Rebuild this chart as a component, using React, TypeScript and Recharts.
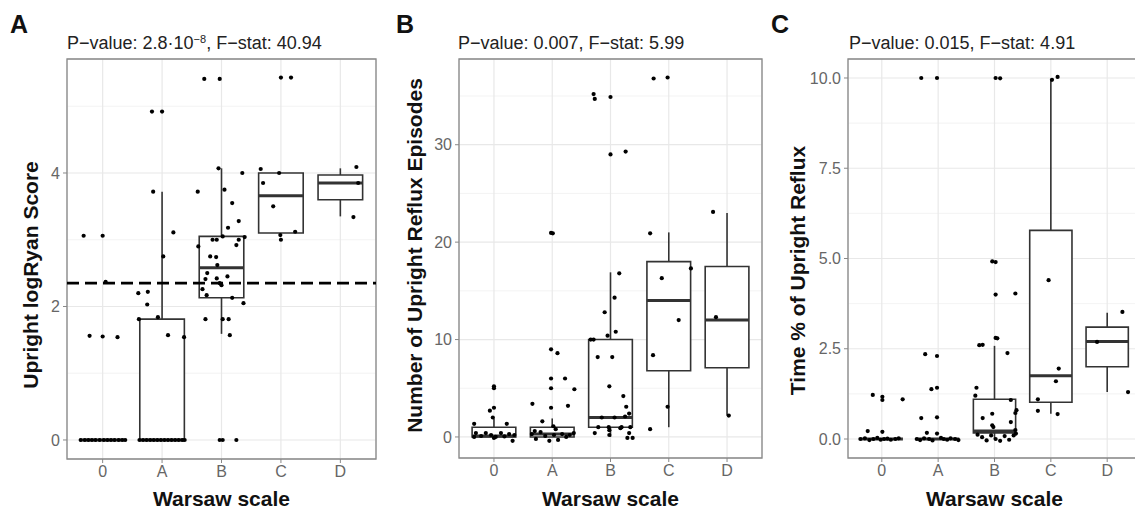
import React from 'react'
import {
  CartesianGrid,
  ComposedChart,
  ReferenceArea,
  ReferenceLine,
  Scatter,
  XAxis,
  YAxis,
} from 'recharts'

const FONT = '"Liberation Sans", Arial, Helvetica, sans-serif'
const GRADES = ['0', 'A', 'B', 'C', 'D']

// Panel A: upright logRyan score
const ryanQ1 = [0, 0, 2.13, 3.1, 3.6]
const ryanMedian = [0, 0, 2.58, 3.66, 3.85]
const ryanQ3 = [0, 1.81, 3.05, 4.0, 3.97]
const ryanLow = [0, 0, 1.59, 3.1, 3.35]
const ryanHigh = [0, 3.72, 4.07, 4.0, 4.07]
const ryanCutoff = 2.35
// [grade, jitter, value]
const ryanPoints: [number, number, number][] = [
  [0, -0.37, 0], [0, -0.3, 0], [0, -0.24, 0], [0, -0.18, 0], [0, -0.12, 0], [0, -0.05, 0],
  [0, 0.02, 0], [0, 0.08, 0], [0, 0.14, 0], [0, 0.2, 0], [0, 0.27, 0], [0, 0.33, 0], [0, 0.38, 0],
  [0, -0.22, 1.56], [0, 0.0, 1.55], [0, 0.25, 1.54], [0, -0.32, 3.06], [0, 0.0, 3.06], [0, 0.05, 2.37],
  [1, -0.17, 4.92], [1, 0.0, 4.92], [1, -0.15, 3.72], [1, 0.19, 3.11], [1, 0.02, 2.75], [1, -0.4, 2.2],
  [1, -0.24, 2.22], [1, -0.25, 2.03], [1, -0.39, 1.81], [1, -0.07, 1.84], [1, 0.1, 1.57], [1, 0.37, 1.54],
  [1, -0.38, 0], [1, -0.32, 0], [1, -0.26, 0], [1, -0.2, 0], [1, -0.14, 0], [1, -0.08, 0], [1, -0.02, 0],
  [1, 0.04, 0], [1, 0.1, 0], [1, 0.16, 0], [1, 0.22, 0], [1, 0.28, 0], [1, 0.34, 0], [1, 0.38, 0],
  [2, -0.29, 5.41], [2, -0.03, 5.41], [2, -0.05, 4.07], [2, 0.35, 4.0], [2, -0.4, 3.72], [2, 0.05, 3.75],
  [2, 0.18, 3.55], [2, 0.29, 3.28], [2, 0.11, 3.18], [2, 0.25, 2.92], [2, -0.39, 2.9],
  [2, -0.15, 3.0], [2, -0.08, 3.0], [2, 0.02, 3.05], [2, 0.29, 3.0], [2, 0.39, 3.04],
  [2, -0.19, 2.75], [2, -0.09, 2.74], [2, -0.07, 2.62], [2, -0.24, 2.5], [2, 0.1, 2.45], [2, -0.27, 2.41],
  [2, -0.08, 2.42], [2, -0.03, 2.35], [2, 0.0, 2.32], [2, -0.32, 2.26], [2, -0.25, 2.17], [2, 0.18, 2.13],
  [2, 0.37, 2.05], [2, -0.27, 1.81], [2, 0.02, 1.81], [2, 0.12, 1.81], [2, 0.14, 1.57],
  [2, -0.03, 0], [2, 0.02, 0], [2, 0.25, 0],
  [3, 0.0, 5.43], [3, 0.17, 5.43], [3, -0.34, 4.06], [3, -0.03, 4.0], [3, -0.3, 3.85], [3, -0.13, 3.5],
  [3, 0.24, 3.12], [3, -0.01, 3.07], [3, 0.0, 3.0],
  [4, 0.27, 4.09], [4, 0.3, 3.85], [4, 0.22, 3.34],
]

// Panel B: number of upright reflux episodes
const episodesQ1 = [0, 0, 1.0, 6.8, 7.1]
const episodesMedian = [0.1, 0.3, 2.0, 14.0, 12.0]
const episodesQ3 = [1.0, 1.0, 10.0, 18.0, 17.5]
const episodesLow = [0, 0, 0, 1.0, 2.2]
const episodesHigh = [1.9, 1.9, 16.9, 21.0, 23.0]
const episodesPoints: [number, number, number][] = [
  [0, 0.0, 5.2], [0, 0.0, 5.0], [0, 0.0, 3.0], [0, -0.07, 2.7], [0, -0.02, 2.0], [0, -0.34, 1.35],
  [0, 0.22, 1.35], [0, -0.31, 0.4], [0, -0.14, 0.4], [0, -0.05, 0.2], [0, 0.03, 0], [0, 0.12, 0.4],
  [0, 0.26, 0.3], [0, -0.34, 0], [0, 0.32, -0.4], [0, 0.0, -0.1], [0, -0.22, 0.1], [0, 0.18, 0.05], [0, 0.35, 0.2],
  [1, -0.02, 20.95], [1, 0.01, 20.9], [1, -0.02, 9.0], [1, 0.09, 8.6], [1, -0.02, 6.0], [1, 0.22, 6.0],
  [1, -0.02, 5.0], [1, 0.38, 4.9], [1, -0.34, 3.4], [1, -0.02, 3.0], [1, 0.27, 3.2], [1, -0.17, 1.6],
  [1, 0.02, 1.1], [1, -0.35, 0.3], [1, -0.28, -0.2], [1, -0.2, 0.5], [1, -0.12, 0.1], [1, -0.05, -0.4],
  [1, 0.03, 0.2], [1, 0.1, -0.3], [1, 0.17, 0.3], [1, 0.24, 0.0], [1, 0.3, 0.2], [1, 0.37, 0.4],
  [1, -0.3, 0.6], [1, 0.06, 0.8],
  [2, -0.29, 35.2], [2, -0.27, 34.7], [2, 0.0, 34.9], [2, 0.0, 29.0], [2, 0.26, 29.3], [2, 0.15, 16.8],
  [2, 0.07, 14.3], [2, -0.1, 12.8], [2, 0.09, 10.8], [2, -0.05, 10.4], [2, -0.34, 10.0], [2, -0.29, 10.0],
  [2, -0.22, 8.2], [2, 0.03, 8.2], [2, -0.02, 5.2], [2, 0.22, 4.2], [2, 0.27, 3.1], [2, 0.32, 2.4],
  [2, -0.21, 1.0], [2, -0.03, 1.0], [2, 0.07, 2.0], [2, 0.19, 1.0], [2, 0.34, 1.0], [2, -0.27, 0.4],
  [2, -0.02, 0.7], [2, 0.32, 0.4], [2, 0.29, -0.1], [2, 0.38, -0.1], [2, -0.02, 0.2], [2, 0.17, 0.9],
  [2, -0.15, 2.0], [2, 0.25, 2.1],
  [3, -0.26, 36.8], [3, -0.02, 36.9], [3, -0.32, 20.9], [3, 0.38, 17.3], [3, -0.12, 16.3], [3, 0.17, 12.0],
  [3, -0.27, 8.4], [3, -0.02, 3.1], [3, -0.32, 0.8],
  [4, -0.24, 23.1], [4, -0.19, 12.3], [4, 0.03, 2.2],
]

// Panel C: time % of upright reflux
const timeQ1 = [0, 0, 0.17, 1.02, 2.0]
const timeMedian = [0, 0, 0.22, 1.75, 2.7]
const timeQ3 = [0, 0, 1.1, 5.78, 3.1]
const timeLow = [0, 0, 0, 0.7, 1.3]
const timeHigh = [0, 0, 2.58, 9.95, 3.5]
const timePoints: [number, number, number][] = [
  [0, -0.16, 1.22], [0, 0.01, 1.17], [0, 0.01, 1.08], [0, 0.37, 1.1], [0, -0.25, 0.22], [0, 0.01, 0.2],
  [0, -0.38, 0], [0, -0.3, 0.02], [0, -0.22, -0.03], [0, -0.15, 0], [0, -0.08, 0.03], [0, -0.02, -0.02],
  [0, 0.04, 0], [0, 0.1, 0.01], [0, 0.16, -0.02], [0, 0.24, 0], [0, 0.3, 0.02],
  [1, -0.3, 10.0], [1, -0.02, 10.0], [1, -0.23, 2.35], [1, -0.02, 2.3], [1, -0.12, 1.38], [1, -0.02, 1.42],
  [1, -0.3, 0.58], [1, -0.02, 0.6], [1, -0.2, 0.17], [1, -0.02, 0.15], [1, -0.38, 0], [1, -0.32, -0.03],
  [1, -0.25, 0.02], [1, -0.16, 0], [1, -0.1, -0.04], [1, 0.05, 0.03], [1, 0.1, 0], [1, 0.16, -0.02],
  [1, 0.22, 0.02], [1, 0.3, 0], [1, 0.36, -0.03],
  [2, 0.02, 10.0], [2, 0.1, 9.99], [2, -0.04, 4.92], [2, 0.02, 4.9], [2, 0.02, 4.0], [2, 0.37, 4.03],
  [2, 0.02, 2.8], [2, 0.05, 2.79], [2, -0.27, 2.6], [2, -0.21, 2.61], [2, 0.23, 2.38], [2, -0.32, 1.42],
  [2, -0.34, 1.2], [2, 0.29, 1.08], [2, 0.39, 0.8], [2, 0.37, 0.72], [2, -0.04, 0.7], [2, -0.21, 0.58],
  [2, -0.04, 0.38], [2, -0.02, 0.33], [2, 0.29, 0.47], [2, 0.37, 0.25], [2, -0.3, 0.12], [2, -0.22, 0.05],
  [2, -0.14, -0.04], [2, -0.06, 0.1], [2, 0.02, 0.0], [2, 0.1, -0.05], [2, 0.18, 0.08], [2, 0.26, -0.02],
  [2, 0.34, 0.1], [2, 0.38, 0.15],
  [3, 0.02, 9.95], [3, 0.12, 10.03], [3, -0.04, 4.4], [3, 0.14, 1.95], [3, 0.09, 1.6], [3, -0.23, 1.1],
  [3, -0.23, 0.78], [3, 0.12, 0.69],
  [4, 0.27, 3.52], [4, -0.18, 2.69], [4, 0.37, 1.3],
]

const BOX_HALF = 0.375
const X_DOMAIN: [number, number] = [-0.6, 4.6]

interface PanelProps {
  left: number
  width: number
  yAxisWidth: number
  xAxisHeight: number
  marginRight: number
  yDomain: [number, number]
  yTicks: number[]
  yMinor: number[]
  tickFmt?: (v: number) => string
  q1: number[]
  median: number[]
  q3: number[]
  low: number[]
  high: number[]
  points: [number, number, number][]
  yTitle: string
  yTitleOffset: number
  yTitleShift: number
  cutoff?: number
}

const dot = (p: any) => <circle cx={p.cx} cy={p.cy} r={2.1} fill="#000" />

function BoxPanel(props: PanelProps) {
  const { q1, median, q3, low, high } = props
  const data = props.points.map(([g, j, v]) => ({ x: g + j, y: v }))
  const boxStroke = '#333'
  const tick = { fill: '#666', fontSize: 16, fontFamily: FONT }
  const titleStyle = { fontSize: 21, fontWeight: 700, fill: '#111', fontFamily: FONT }

  return (
    <div style={{ position: 'absolute', left: props.left, top: 0 }}>
      <ComposedChart
        width={props.width}
        height={511}
        data={data}
        margin={{ top: 59, right: props.marginRight, bottom: 0, left: 0 }}
      >
        <CartesianGrid
          vertical={false}
          horizontalValues={props.yMinor}
          stroke="#eeeeee"
          strokeWidth={0.7}
        />
        <CartesianGrid stroke="#e8e8e8" strokeWidth={1.2} />
        <XAxis
          dataKey="x"
          type="number"
          domain={X_DOMAIN}
          allowDataOverflow
          ticks={[0, 1, 2, 3, 4]}
          interval={0}
          tickFormatter={(v: number) => GRADES[v]}
          height={props.xAxisHeight}
          axisLine={false}
          tickLine={{ stroke: '#888' }}
          tickSize={4}
          tickMargin={3}
          tick={tick}
          label={{ value: 'Warsaw scale', position: 'insideBottom', offset: 5, style: titleStyle }}
        />
        <YAxis
          dataKey="y"
          type="number"
          domain={props.yDomain}
          allowDataOverflow
          ticks={props.yTicks}
          interval={0}
          tickFormatter={props.tickFmt}
          width={props.yAxisWidth}
          axisLine={false}
          tickLine={{ stroke: '#888' }}
          tickSize={4}
          tickMargin={3}
          tick={tick}
          label={{
            value: props.yTitle,
            angle: -90,
            position: 'insideLeft',
            offset: props.yTitleOffset,
            dy: props.yTitleShift,
            style: { ...titleStyle, textAnchor: 'middle' },
          }}
        />
        {GRADES.map((g, i) => (
          <React.Fragment key={g}>
            {low[i] < q1[i] && (
              <ReferenceLine
                segment={[{ x: i, y: low[i] }, { x: i, y: q1[i] }]}
                stroke={boxStroke}
                strokeWidth={1.6}
              />
            )}
            {high[i] > q3[i] && (
              <ReferenceLine
                segment={[{ x: i, y: q3[i] }, { x: i, y: high[i] }]}
                stroke={boxStroke}
                strokeWidth={1.6}
              />
            )}
            {q3[i] > q1[i] && (
              <ReferenceArea
                x1={i - BOX_HALF}
                x2={i + BOX_HALF}
                y1={q1[i]}
                y2={q3[i]}
                fill="#fff"
                fillOpacity={1}
                stroke={boxStroke}
                strokeWidth={1.6}
              />
            )}
            <ReferenceLine
              segment={[{ x: i - BOX_HALF, y: median[i] }, { x: i + BOX_HALF, y: median[i] }]}
              stroke={boxStroke}
              strokeWidth={3}
            />
          </React.Fragment>
        ))}
        {props.cutoff !== undefined && (
          <ReferenceLine y={props.cutoff} stroke="#000" strokeWidth={2.8} strokeDasharray="12 6" />
        )}
        <Scatter dataKey="y" isAnimationActive={false} shape={dot} />
        <ReferenceArea
          x1={X_DOMAIN[0]}
          x2={X_DOMAIN[1]}
          y1={props.yDomain[0]}
          y2={props.yDomain[1]}
          fill="none"
          stroke="#888"
          strokeWidth={1.3}
          ifOverflow="visible"
        />
      </ComposedChart>
    </div>
  )
}

const letterStyle: React.CSSProperties = {
  position: 'absolute',
  top: 12,
  fontFamily: FONT,
  fontWeight: 700,
  fontSize: 25,
  lineHeight: '25px',
  color: '#111',
}

const subStyle: React.CSSProperties = {
  position: 'absolute',
  top: 34,
  fontFamily: FONT,
  fontSize: 18,
  lineHeight: '18px',
  color: '#222',
  whiteSpace: 'nowrap',
}

export default function App() {
  return (
    <div
      style={{
        position: 'fixed',
        left: 0,
        top: 0,
        width: 1135,
        height: 511,
        overflow: 'hidden',
        background: '#fff',
      }}
    >
      <BoxPanel
        left={0}
        width={378}
        yAxisWidth={67}
        xAxisHeight={52}
        marginRight={2}
        yDomain={[-0.285, 5.708]}
        yTicks={[0, 2, 4]}
        yMinor={[1, 3, 5]}
        q1={ryanQ1}
        median={ryanMedian}
        q3={ryanQ3}
        low={ryanLow}
        high={ryanHigh}
        points={ryanPoints}
        yTitle="Upright logRyan Score"
        yTitleOffset={31}
        yTitleShift={16}
        cutoff={ryanCutoff}
      />
      <BoxPanel
        left={385}
        width={380}
        yAxisWidth={74}
        xAxisHeight={53}
        marginRight={3}
        yDomain={[-2.16, 38.8]}
        yTicks={[0, 10, 20, 30]}
        yMinor={[5, 15, 25, 35]}
        q1={episodesQ1}
        median={episodesMedian}
        q3={episodesQ3}
        low={episodesLow}
        high={episodesHigh}
        points={episodesPoints}
        yTitle="Number of Upright Reflux Episodes"
        yTitleOffset={29.5}
        yTitleShift={-3}
      />
      <BoxPanel
        left={765}
        width={376}
        yAxisWidth={83}
        xAxisHeight={53}
        marginRight={0}
        yDomain={[-0.526, 10.526]}
        yTicks={[0, 2.5, 5, 7.5, 10]}
        yMinor={[1.25, 3.75, 6.25, 8.75]}
        tickFmt={(v: number) => v.toFixed(1)}
        q1={timeQ1}
        median={timeMedian}
        q3={timeQ3}
        low={timeLow}
        high={timeHigh}
        points={timePoints}
        yTitle="Time % of Upright Reflux"
        yTitleOffset={32.5}
        yTitleShift={12}
      />
      <div style={{ ...letterStyle, left: 10 }}>A</div>
      <div style={{ ...letterStyle, left: 396 }}>B</div>
      <div style={{ ...letterStyle, left: 771 }}>C</div>
      <div style={{ ...subStyle, left: 67 }}>
        P−value: 2.8·10<sup style={{ fontSize: 11, verticalAlign: 'top', lineHeight: '10px' }}>−8</sup>, F−stat: 40.94
      </div>
      <div style={{ ...subStyle, left: 458 }}>P−value: 0.007, F−stat: 5.99</div>
      <div style={{ ...subStyle, left: 849 }}>P−value: 0.015, F−stat: 4.91</div>
    </div>
  )
}
